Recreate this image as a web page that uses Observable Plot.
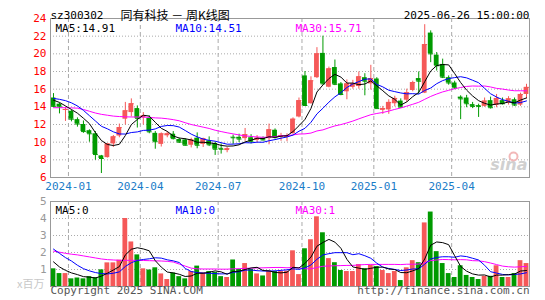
<!DOCTYPE html>
<html><head><meta charset="utf-8">
<script src="https://cdn.jsdelivr.net/npm/d3@7"></script>
<script src="https://cdn.jsdelivr.net/npm/@observablehq/plot@0.6"></script>
<style>
body{margin:0;background:#fff;}
#wrap{position:relative;width:545px;height:300px;overflow:hidden;background:#fff}
#price,#vol{position:absolute;left:0}
#price{top:0}
#vol{top:190px}
</style></head><body>
<div id="wrap"><div id="price"></div><div id="vol"></div></div>
<script>
// Weekly K-line data (index 0 = week of 2023-12-22 ... index 79 = week of 2025-06-27)
const open  = [15.0,14.3,13.6,13.5,12.55,12.0,11.3,10.95,8.45,8.25,9.8,10.7,12.6,13.35,13.8,12.75,12.68,11.0,9.75,10.72,10.9,10.3,10.25,9.65,10.45,9.75,10.15,9.85,9.3,9.05,10.56,10.55,10.4,10.5,10.2,10.45,10.4,11.35,10.55,10.55,10.96,12.85,17.5,14.35,17.3,20.05,16.22,18.45,16.6,15.7,16.2,16.3,17.3,16.6,17.15,13.6,13.65,14.35,14.65,14.75,15.85,17.2,15.55,22.35,19.85,18.8,17.3,16.7,15.1,15.0,14.25,14.15,14.05,14.7,14.15,14.7,14.45,14.8,14.2,15.4];
const high  = [15.5,14.4,13.9,13.6,12.75,12.4,11.4,11.2,8.5,9.85,10.75,12.05,14.5,14.9,14.1,13.35,12.98,11.2,11.05,11.17,11.2,10.45,10.4,10.45,11.05,10.45,10.6,10.0,9.8,9.4,10.8,10.9,11.55,10.85,10.75,10.6,12.05,11.5,11.0,10.95,12.75,15.0,18.0,17.4,20.7,22.0,18.5,19.3,16.75,17.05,17.0,17.95,17.75,18.7,17.3,14.05,14.8,15.2,14.9,16.0,16.9,17.95,23.3,22.6,20.15,19.4,17.5,16.9,15.25,15.3,14.5,14.3,15.0,15.1,15.4,15.0,15.15,15.0,15.55,16.55];
const low   = [13.95,13.2,12.35,12.3,11.7,11.0,10.0,7.95,6.45,8.2,9.4,10.5,11.95,12.85,11.6,11.95,10.95,9.2,9.45,10.5,10.25,9.85,9.55,9.35,9.25,9.4,9.5,8.5,8.65,8.8,9.75,9.95,10.1,9.8,9.95,10.15,9.7,10.35,10.1,10.05,10.9,12.75,14.05,14.3,17.2,16.5,16.15,16.4,15.25,14.8,16.0,16.0,15.25,15.9,13.75,13.15,13.15,14.0,13.9,14.5,15.7,15.4,15.5,19.0,18.05,17.2,16.45,15.95,12.55,13.9,13.8,12.8,13.95,13.75,13.9,14.2,14.2,14.05,14.05,14.9];
const close = [14.05,14.0,13.7,12.6,12.05,11.2,10.95,8.6,8.15,9.8,10.6,11.65,13.55,14.35,12.7,12.98,11.17,10.05,10.94,10.94,10.4,10.0,9.65,10.25,9.65,10.4,9.7,9.2,9.2,9.25,10.5,10.35,10.85,10.1,10.45,10.25,11.4,10.55,10.75,10.7,12.6,14.7,14.15,16.95,20.0,16.6,18.3,16.55,15.4,16.6,16.6,17.4,16.9,17.2,13.8,13.8,14.5,14.95,13.95,15.6,16.75,16.9,21.05,20.0,18.65,17.35,16.7,16.15,14.9,14.35,14.05,14.05,14.65,13.9,14.95,14.35,14.9,14.2,15.4,16.2];
const volume = [1.04,0.76,0.76,0.45,0.5,0.45,0.58,0.52,0.98,1.39,1.39,1.55,4.0,2.62,1.86,1.04,0.97,1.1,0.74,0.41,0.79,0.58,0.45,0.88,1.2,0.8,0.88,0.83,0.58,0.53,1.56,1.0,1.35,1.0,0.74,0.62,0.9,0.88,0.88,0.9,2.1,0.7,2.22,2.75,4.1,3.16,1.64,1.4,0.94,0.88,0.88,1.29,1.05,1.24,1.17,0.94,0.76,0.88,0.35,1.1,1.52,1.4,3.74,4.38,2.05,1.35,0.76,0.53,1.22,0.65,0.53,0.41,0.6,0.6,1.22,0.53,0.53,0.76,1.52,1.35];

// Moving averages as shown on the chart
const ma5  = [14.75,14.5,14.1,13.7,13.28,12.71,12.1,11.08,10.19,9.74,9.62,9.76,10.75,11.99,12.57,13.05,12.95,12.25,11.57,11.22,10.7,10.47,10.39,10.25,9.99,9.99,9.93,9.84,9.63,9.55,9.57,9.7,10.03,10.21,10.45,10.4,10.61,10.55,10.68,10.73,11.2,11.86,12.58,13.82,15.68,16.48,17.2,17.68,17.37,16.69,16.69,16.51,16.58,16.94,16.38,15.82,15.24,14.85,14.2,14.56,15.15,15.63,16.85,18.06,18.67,18.79,18.75,17.77,16.75,15.89,15.23,14.7,14.4,14.2,14.32,14.38,14.55,14.46,14.76,15.01];
const ma10 = [14.95,14.85,14.7,14.45,14.1,13.6,13.0,12.4,11.8,11.51,11.17,10.93,10.92,11.09,11.16,11.33,11.36,11.5,11.78,11.89,11.87,11.71,11.32,10.91,10.6,10.35,10.2,10.11,9.94,9.77,9.78,9.82,9.94,9.92,10.0,9.99,10.16,10.29,10.45,10.59,10.8,11.24,11.57,12.25,13.2,13.84,14.53,15.13,15.6,16.19,16.59,16.86,17.13,17.16,16.54,16.26,15.88,15.72,15.57,15.47,15.49,15.44,15.85,16.13,16.62,16.97,17.19,17.31,17.41,17.28,17.01,16.73,16.09,15.48,15.11,14.81,14.63,14.43,14.48,14.67];
const ma30 = [13.9,13.9,13.9,13.88,13.85,13.7,13.5,13.3,13.15,13.05,12.95,12.9,12.87,12.85,12.85,12.85,12.8,12.75,12.72,12.65,12.55,12.42,12.2,12.0,11.85,11.7,11.55,11.35,11.2,11.06,10.94,10.82,10.72,10.64,10.59,10.55,10.57,10.63,10.72,10.75,10.82,10.92,10.94,11.03,11.27,11.39,11.63,11.84,11.99,12.18,12.39,12.64,12.88,13.11,13.25,13.36,13.52,13.71,13.87,14.08,14.29,14.51,14.85,15.18,15.45,15.69,15.87,16.05,16.19,16.31,16.36,16.34,16.36,16.25,16.09,16.01,15.9,15.82,15.82,15.81];
const volMa5  = [1.45,1.15,0.95,0.8,0.70,0.58,0.55,0.5,0.61,0.78,0.97,1.17,1.86,2.19,2.28,2.21,2.1,1.52,1.14,0.85,0.8,0.72,0.59,0.62,0.78,0.78,0.84,0.92,0.86,0.72,0.88,0.9,1.0,1.09,1.13,0.94,0.92,0.83,0.8,0.84,1.13,1.09,1.36,1.73,2.37,2.59,2.77,2.61,2.25,1.6,1.15,1.08,1.01,1.07,1.13,1.14,1.03,1.0,0.82,0.81,0.92,1.05,1.62,2.43,2.62,2.58,2.46,1.81,1.18,0.9,0.74,0.67,0.68,0.56,0.67,0.67,0.7,0.73,0.91,0.94];
const volMa10 = [2.2,1.95,1.7,1.5,1.25,1.05,0.92,0.82,0.76,0.74,0.78,0.86,1.18,1.4,1.53,1.59,1.63,1.69,1.67,1.57,1.51,1.41,1.06,0.88,0.82,0.79,0.78,0.76,0.74,0.75,0.83,0.87,0.96,0.97,0.93,0.91,0.91,0.92,0.95,0.98,1.04,1.01,1.09,1.27,1.6,1.86,1.93,1.99,1.99,1.99,1.87,1.93,1.81,1.66,1.37,1.14,1.06,1.0,0.94,0.97,1.03,1.04,1.31,1.62,1.71,1.75,1.75,1.72,1.8,1.76,1.66,1.56,1.25,0.87,0.79,0.71,0.68,0.71,0.74,0.81];
const volMa30 = [2.08,2.02,1.95,1.9,1.86,1.8,1.74,1.68,1.62,1.58,1.56,1.54,1.54,1.54,1.54,1.53,1.52,1.51,1.5,1.48,1.44,1.32,1.2,1.08,1.04,1.03,1.03,1.03,1.02,1.02,1.04,1.05,1.07,1.08,1.09,1.1,1.11,1.12,1.12,1.1,1.12,1.1,1.04,1.04,1.12,1.19,1.21,1.22,1.23,1.24,1.24,1.27,1.29,1.3,1.3,1.3,1.3,1.3,1.29,1.31,1.31,1.32,1.4,1.52,1.56,1.59,1.58,1.57,1.58,1.57,1.52,1.51,1.46,1.38,1.29,1.2,1.16,1.14,1.16,1.18];

// Axis ticks and labels
const monthTicks  = [2.5,14.5,27.5,41.5,53.5,66.5];
const monthLabels = ["2024-01","2024-04","2024-07","2024-10","2025-01","2025-04"];
const priceTicks  = [6,8,10,12,14,16,18,20,22,24];
const priceGrid   = [8,10,12,14,16,18,20,22];
const volTicks    = [1,2,3,4,5];
const volGrid     = [1,2,3,4];
const priceMaLabels = ["MA5:14.91","MA10:14.51","MA30:15.71"];
const volMaLabels   = ["MA5:0","MA10:0","MA30:1"];
const stockCode = "sz300302";
const chartTitle = "同有科技 － 周K线图";
const stamp = "2025-06-26 15:00:00";

const RED = "#f55858", GREEN = "#009a00";
const MA_COLORS = ["#000000","#0000ff","#ff00ff"];
const MONTH_BLUE = "#1a7cc8";
const labelOf = new Map(monthTicks.map((t,k)=>[t, monthLabels[k]]));

const rows = close.map((c,i)=>({i, o:open[i], h:high[i], l:low[i], c, v:volume[i], up:c>=open[i]}));
const up = rows.filter(d=>d.up), dn = rows.filter(d=>!d.up);
const series = (arr)=>arr.map((y,i)=>({i,y}));

const MONO = "'DejaVu Sans Mono', monospace";
const CJK = "'Noto Sans CJK SC', sans-serif";

function candles(){
  const m = [];
  for (const [set,col] of [[up,RED],[dn,GREEN]]) {
    m.push(Plot.ruleX(set,{x:"i", y1:"l", y2:"h", stroke:col, strokeWidth:1}));
    m.push(Plot.rect(set,{x1:d=>d.i-0.4, x2:d=>d.i+0.4, y1:"o", y2:"c", fill:col}));
    m.push(Plot.link(set,{x1:d=>d.i-0.4, x2:d=>d.i+0.4, y1:"c", y2:"c", stroke:col}));
  }
  return m;
}

const price = Plot.plot({
  width:545, height:195, marginLeft:50, marginRight:16, marginTop:18, marginBottom:18,
  style:{fontFamily:MONO, fontSize:"10px", background:"transparent", overflow:"visible"},
  x:{domain:[-0.5,79.5], axis:null, label:null},
  y:{domain:[6,24], axis:null, label:null},
  marks:[
    Plot.ruleY(priceGrid,{stroke:"#aaa", strokeDasharray:"1,2"}),
    Plot.ruleX(monthTicks,{stroke:"#aaa", strokeDasharray:"4,3"}),
    Plot.axisY({ticks:priceTicks, label:null, tickSize:0, tickPadding:4, fill:"#ff0000", fontSize:11, tickFormat:d=>String(d)}),
    Plot.axisX({ticks:monthTicks, label:null, tickSize:0, tickPadding:5, fill:MONTH_BLUE, fontSize:11, tickFormat:d=>labelOf.get(d)}),
    Plot.text(["sina"],{text:d=>d, frameAnchor:"bottom-right", dx:-2, dy:-8, textAnchor:"end", fontSize:16, fontStyle:"italic", fontWeight:"bold", fontFamily:"'DejaVu Sans', sans-serif", fill:"#d0d0d0"}),
    Plot.dot([0],{frameAnchor:"bottom-right", dx:-16, dy:-21, r:4, stroke:"#f2b8b8", strokeWidth:2}),
    ...candles(),
    Plot.line(series(ma30),{x:"i", y:"y", stroke:MA_COLORS[2], strokeWidth:1}),
    Plot.line(series(ma10),{x:"i", y:"y", stroke:MA_COLORS[1], strokeWidth:1}),
    Plot.line(series(ma5),{x:"i", y:"y", stroke:MA_COLORS[0], strokeWidth:1}),
    Plot.frame({stroke:"#999"}),
    Plot.text([stockCode],{text:d=>d, frameAnchor:"top-left", dy:-7, textAnchor:"start", fill:"#000", fontSize:11}),
    Plot.text([chartTitle],{text:d=>d, frameAnchor:"top-left", dx:70, dy:-7, textAnchor:"start", fill:"#000", fontSize:12, fontFamily:CJK}),
    Plot.text([stamp],{text:d=>d, frameAnchor:"top-right", dy:-7, textAnchor:"end", fill:"#000", fontSize:11}),
    Plot.text([priceMaLabels[0]],{text:d=>d, frameAnchor:"top-left", dx:5, dy:6, textAnchor:"start", fill:MA_COLORS[0], fontSize:11}),
    Plot.text([priceMaLabels[1]],{text:d=>d, frameAnchor:"top-left", dx:125, dy:6, textAnchor:"start", fill:MA_COLORS[1], fontSize:11}),
    Plot.text([priceMaLabels[2]],{text:d=>d, frameAnchor:"top-left", dx:245, dy:6, textAnchor:"start", fill:MA_COLORS[2], fontSize:11})
  ]
});
document.getElementById("price").appendChild(price);

const vol = Plot.plot({
  width:545, height:110, marginLeft:50, marginRight:16, marginTop:11, marginBottom:14,
  style:{fontFamily:MONO, fontSize:"10px", background:"transparent", overflow:"visible"},
  x:{domain:[-0.5,79.5], axis:null, label:null},
  y:{domain:[0,5], axis:null, label:null},
  marks:[
    Plot.ruleY(volGrid,{stroke:"#aaa", strokeDasharray:"1,2"}),
    Plot.ruleX(monthTicks,{stroke:"#aaa", strokeDasharray:"4,3"}),
    Plot.axisY({ticks:volTicks, label:null, tickSize:0, tickPadding:4, fill:"#999", fontSize:11, tickFormat:d=>String(d)}),
    Plot.rect(up,{x1:d=>d.i-0.4, x2:d=>d.i+0.4, y1:0, y2:"v", fill:RED}),
    Plot.rect(dn,{x1:d=>d.i-0.4, x2:d=>d.i+0.4, y1:0, y2:"v", fill:GREEN}),
    Plot.line(series(volMa30),{x:"i", y:"y", stroke:MA_COLORS[2], strokeWidth:1}),
    Plot.line(series(volMa10),{x:"i", y:"y", stroke:MA_COLORS[1], strokeWidth:1}),
    Plot.line(series(volMa5),{x:"i", y:"y", stroke:MA_COLORS[0], strokeWidth:1}),
    Plot.frame({stroke:"#999"}),
    Plot.text([volMaLabels[0]],{text:d=>d, frameAnchor:"top-left", dx:5, dy:5, textAnchor:"start", fill:MA_COLORS[0], fontSize:11}),
    Plot.text([volMaLabels[1]],{text:d=>d, frameAnchor:"top-left", dx:125, dy:5, textAnchor:"start", fill:MA_COLORS[1], fontSize:11}),
    Plot.text([volMaLabels[2]],{text:d=>d, frameAnchor:"top-left", dx:245, dy:5, textAnchor:"start", fill:MA_COLORS[2], fontSize:11}),
    Plot.text(["x百万"],{text:d=>d, frameAnchor:"bottom-left", dx:-6, dy:1, textAnchor:"end", fill:"#c8c8c8", fontSize:11, fontFamily:CJK}),
    Plot.text(["Copyright 2025 SINA.COM"],{text:d=>d, frameAnchor:"bottom-left", dy:7, textAnchor:"start", fill:"#555", fontSize:11}),
    Plot.text(["http://finance.sina.com.cn"],{text:d=>d, frameAnchor:"bottom-right", dy:7, textAnchor:"end", fill:"#555", fontSize:11})
  ]
});
document.getElementById("vol").appendChild(vol);
</script>
</body></html>
